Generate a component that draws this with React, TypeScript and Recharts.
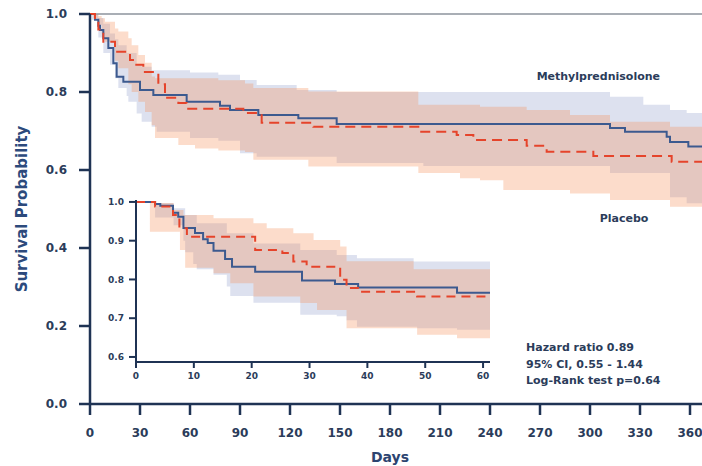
import React from 'react';
import {
  ComposedChart, Line, Area, XAxis, YAxis, ReferenceLine, ReferenceDot, Label,
} from 'recharts';

// ---------- Main chart (days 0-360) ----------
const mainXTicks = [0, 30, 60, 90, 120, 150, 180, 210, 240, 270, 300, 330, 360];
const mainYTicks = [0, 0.2, 0.4, 0.6, 0.8, 1.0];

const mpDays = [0, 3, 5, 6, 8, 11, 14, 16, 20, 30, 38, 58, 78, 84, 101, 125, 148, 312, 321, 346, 348, 359, 367.2];
const mpSurv = [1.0, 0.985, 0.97, 0.959, 0.938, 0.913, 0.874, 0.839, 0.826, 0.805, 0.792, 0.775, 0.765, 0.754, 0.741, 0.733, 0.718, 0.708, 0.698, 0.685, 0.672, 0.66, 0.66];

const plDays = [0, 3, 5, 8, 15, 24, 27, 32, 41, 45, 53, 58, 92, 103, 134, 198, 220, 230, 262, 274, 302, 349, 367.2];
const plSurv = [1.0, 0.985, 0.96, 0.929, 0.903, 0.882, 0.87, 0.851, 0.82, 0.785, 0.772, 0.757, 0.746, 0.721, 0.711, 0.698, 0.69, 0.677, 0.662, 0.647, 0.636, 0.621, 0.621];

const mpBandDays = [1, 5, 8, 12, 15, 17, 22, 23, 28, 31, 37, 40, 60, 77, 90, 100, 124, 148, 200, 312, 332, 348, 358, 367.2];
const mpBandHi = [1.0, 0.99, 0.975, 0.95, 0.935, 0.92, 0.9, 0.9, 0.87, 0.865, 0.856, 0.856, 0.85, 0.844, 0.831, 0.818, 0.805, 0.8, 0.8, 0.788, 0.767, 0.754, 0.746, 0.746];
const mpBandLo = [0.985, 0.94, 0.9, 0.87, 0.835, 0.81, 0.79, 0.775, 0.745, 0.724, 0.711, 0.698, 0.682, 0.675, 0.643, 0.634, 0.634, 0.618, 0.61, 0.592, 0.592, 0.53, 0.515, 0.515];

const plBandDays = [2, 5, 7, 9, 15, 17, 23, 25, 29, 33, 37, 39, 53, 63, 77, 93, 98, 131, 197, 222, 234, 248, 262, 288, 312, 348, 367.2];
const plBandHi = [1.0, 0.995, 0.989, 0.98, 0.963, 0.955, 0.938, 0.92, 0.895, 0.875, 0.84, 0.835, 0.835, 0.835, 0.83, 0.822, 0.81, 0.801, 0.767, 0.767, 0.762, 0.762, 0.754, 0.741, 0.724, 0.711, 0.711];
const plBandLo = [0.99, 0.972, 0.95, 0.929, 0.88, 0.861, 0.82, 0.8, 0.775, 0.749, 0.715, 0.682, 0.664, 0.655, 0.65, 0.646, 0.626, 0.609, 0.592, 0.579, 0.574, 0.549, 0.549, 0.54, 0.523, 0.506, 0.506];

// ---------- Inset (days 0-60) ----------
const insetXTicks = [0, 10, 20, 30, 40, 50, 60];
const insetYTicks = [0.6, 0.7, 0.8, 0.9, 1.0];

const inMpDays = [0, 3.3, 4.2, 6.4, 7.3, 8.2, 10.2, 11.6, 12.4, 13.4, 15.4, 16.6, 20.6, 28.7, 34.4, 38.4, 55.5, 61.2];
const inMpSurv = [1, 0.995, 0.99, 0.972, 0.962, 0.933, 0.92, 0.904, 0.894, 0.874, 0.853, 0.833, 0.82, 0.797, 0.788, 0.779, 0.766, 0.766];

const inPlDays = [0, 3.3, 6.4, 7.5, 8.8, 20.6, 25.3, 27.2, 29.5, 35.3, 36.4, 38.4, 48.6, 61.2];
const inPlSurv = [1, 0.988, 0.966, 0.932, 0.91, 0.876, 0.868, 0.846, 0.833, 0.799, 0.778, 0.768, 0.756, 0.756];

const inMpBandDays = [3.3, 6.5, 8.2, 8.5, 9.9, 10.5, 13.4, 15.7, 16.3, 20.3, 28.4, 34.7, 36.4, 38.2, 48, 48.6, 55.5, 61.2];
const inMpBandHi = [0.997, 0.984, 0.984, 0.966, 0.966, 0.945, 0.945, 0.919, 0.919, 0.893, 0.876, 0.863, 0.863, 0.855, 0.846, 0.846, 0.846, 0.846];
const inMpBandLo = [0.96, 0.94, 0.9, 0.87, 0.84, 0.826, 0.812, 0.782, 0.757, 0.74, 0.709, 0.705, 0.695, 0.678, 0.678, 0.674, 0.67, 0.67];

const inPlBandDays = [2.4, 6.5, 7.6, 8.2, 8.5, 13.4, 16.3, 20.3, 22.6, 27.2, 28.4, 30.7, 31.3, 35.3, 36.4, 48, 48.6, 55.5, 61.2];
const inPlBandHi = [0.997, 0.979, 0.979, 0.966, 0.966, 0.958, 0.958, 0.945, 0.932, 0.919, 0.919, 0.902, 0.902, 0.885, 0.847, 0.826, 0.826, 0.826, 0.826];
const inPlBandLo = [0.923, 0.923, 0.876, 0.876, 0.83, 0.816, 0.79, 0.756, 0.756, 0.756, 0.739, 0.739, 0.721, 0.721, 0.674, 0.674, 0.657, 0.648, 0.648];

const statLines = ['Hazard ratio 0.89', '95% CI, 0.55 - 1.44', 'Log-Rank test p=0.64'];

// ---------- helpers ----------
const pts = (d: number[], v: number[]) => d.map((x, i) => ({ day: x, s: v[i] }));
const band = (d: number[], lo: number[], hi: number[]) => d.map((x, i) => ({ day: x, range: [lo[i], hi[i]] }));

const FONT = 'DejaVu Sans';
const AXIS = '#1f3354';
const TEXT = '#2b3c5a';
const BLUE = '#3c5a8f';
const RED = '#e5442b';
const LAV = '#9ea9d2';
const PEACH = '#f58a52';

const fmt1 = (v: number) => v.toFixed(1);

export default function App() {
  const mpLine = pts(mpDays, mpSurv);
  const plLine = pts(plDays, plSurv);
  const mpBand = band(mpBandDays, mpBandLo, mpBandHi);
  const plBand = band(plBandDays, plBandLo, plBandHi);

  const iMpLine = pts(inMpDays, inMpSurv);
  const iPlLine = pts(inPlDays, inPlSurv);
  const iMpBand = band(inMpBandDays, inMpBandLo, inMpBandHi);
  const iPlBand = band(inPlBandDays, inPlBandLo, inPlBandHi);

  return (
    <div style={{ position: 'absolute', left: 0, top: 0, width: 702, height: 466, background: '#fff' }}>
      <div style={{ position: 'absolute', left: 0, top: 0 }}>
        <ComposedChart width={702} height={466} margin={{ top: 14, right: 0, bottom: 0, left: 0 }}>
          <XAxis
            type="number"
            dataKey="day"
            domain={[0, 367.2]}
            ticks={mainXTicks}
            interval={0}
            height={62}
            tickSize={11}
            tickMargin={13}
            axisLine={{ stroke: AXIS, strokeWidth: 2.5 }}
            tickLine={{ stroke: AXIS, strokeWidth: 2.5 }}
            tick={{ fill: TEXT, fontSize: 12, fontFamily: FONT, fontWeight: 'bold' }}
          >
            <Label
              content={({ viewBox }: any) => (
                <text
                  x={viewBox.x + viewBox.width / 2 - 6}
                  y={viewBox.y + 58}
                  textAnchor="middle"
                  fill="#2c4470"
                  fontFamily={FONT}
                  fontWeight="bold"
                  fontSize={14}
                >
                  Days
                </text>
              )}
            />
          </XAxis>
          <YAxis
            type="number"
            domain={[0, 1]}
            ticks={mainYTicks}
            interval={0}
            width={90}
            tickFormatter={fmt1}
            tickSize={11}
            tickMargin={12}
            axisLine={{ stroke: AXIS, strokeWidth: 2.5 }}
            tickLine={{ stroke: AXIS, strokeWidth: 2.5 }}
            tick={{ fill: TEXT, fontSize: 12, fontFamily: FONT, fontWeight: 'bold' }}
          >
            <Label
              content={({ viewBox }: any) => {
                const cx = viewBox.x + 22;
                const cy = viewBox.y + viewBox.height / 2;
                return (
                  <text
                    x={cx}
                    y={cy}
                    transform={`rotate(-90 ${cx} ${cy})`}
                    textAnchor="middle"
                    dominantBaseline="central"
                    fill="#2c4a7c"
                    fontFamily={FONT}
                    fontWeight="bold"
                    fontSize={15}
                  >
                    Survival Probability
                  </text>
                );
              }}
            />
          </YAxis>
          <ReferenceLine y={1} stroke="#8d939d" strokeWidth={1.5} />
          <Area data={mpBand} dataKey="range" type="stepAfter" stroke="none" fill={LAV} fillOpacity={0.35} isAnimationActive={false} />
          <Area data={plBand} dataKey="range" type="stepAfter" stroke="none" fill={PEACH} fillOpacity={0.3} isAnimationActive={false} />
          <Line data={mpLine} dataKey="s" type="stepAfter" stroke={BLUE} strokeWidth={2} dot={false} isAnimationActive={false} />
          <Line data={plLine} dataKey="s" type="stepAfter" stroke={RED} strokeWidth={2} strokeDasharray="10 6" dot={false} isAnimationActive={false} />
          <ReferenceDot
            x={305}
            y={0.841}
            r={0}
            fill="none"
            stroke="none"
            label={{ value: 'Methylprednisolone', position: 'center', fill: TEXT, fontFamily: FONT, fontWeight: 'bold', fontSize: 11 }}
          />
          <ReferenceDot
            x={320.4}
            y={0.477}
            r={0}
            fill="none"
            stroke="none"
            label={{ value: 'Placebo', position: 'center', fill: TEXT, fontFamily: FONT, fontWeight: 'bold', fontSize: 11 }}
          />
          <ReferenceDot
            x={261.6}
            y={0.1436}
            r={0}
            fill="none"
            stroke="none"
            label={{
              content: ({ viewBox }: any) => (
                <g>
                  {statLines.map((t, i) => (
                    <text
                      key={t}
                      x={viewBox.x}
                      y={viewBox.y + i * 16.5}
                      dominantBaseline="central"
                      fill={TEXT}
                      fontFamily={FONT}
                      fontWeight="bold"
                      fontSize={11}
                    >
                      {t}
                    </text>
                  ))}
                </g>
              ),
            }}
          />
        </ComposedChart>
      </div>

      <div style={{ position: 'absolute', left: 100, top: 190 }}>
        <ComposedChart width={400} height={200} margin={{ top: 10, right: 10, bottom: 0, left: 0 }}>
          <XAxis
            type="number"
            dataKey="day"
            domain={[0, 61.2]}
            ticks={insetXTicks}
            interval={0}
            height={28}
            tickSize={6}
            tickMargin={5}
            axisLine={{ stroke: AXIS, strokeWidth: 2 }}
            tickLine={{ stroke: AXIS, strokeWidth: 2 }}
            tick={{ fill: TEXT, fontSize: 9, fontFamily: FONT, fontWeight: 'bold' }}
          />
          <YAxis
            type="number"
            domain={[0.587, 1.005]}
            ticks={insetYTicks}
            interval={0}
            width={36}
            tickFormatter={fmt1}
            tickSize={7}
            tickMargin={5}
            axisLine={{ stroke: AXIS, strokeWidth: 2 }}
            tickLine={{ stroke: AXIS, strokeWidth: 2 }}
            tick={{ fill: TEXT, fontSize: 9, fontFamily: FONT, fontWeight: 'bold' }}
          />
          <Area data={iMpBand} dataKey="range" type="stepAfter" stroke="none" fill={LAV} fillOpacity={0.35} isAnimationActive={false} />
          <Area data={iPlBand} dataKey="range" type="stepAfter" stroke="none" fill={PEACH} fillOpacity={0.3} isAnimationActive={false} />
          <Line data={iMpLine} dataKey="s" type="stepAfter" stroke={BLUE} strokeWidth={2} dot={false} isAnimationActive={false} />
          <Line data={iPlLine} dataKey="s" type="stepAfter" stroke={RED} strokeWidth={2} strokeDasharray="9 6" dot={false} isAnimationActive={false} />
        </ComposedChart>
      </div>
    </div>
  );
}
